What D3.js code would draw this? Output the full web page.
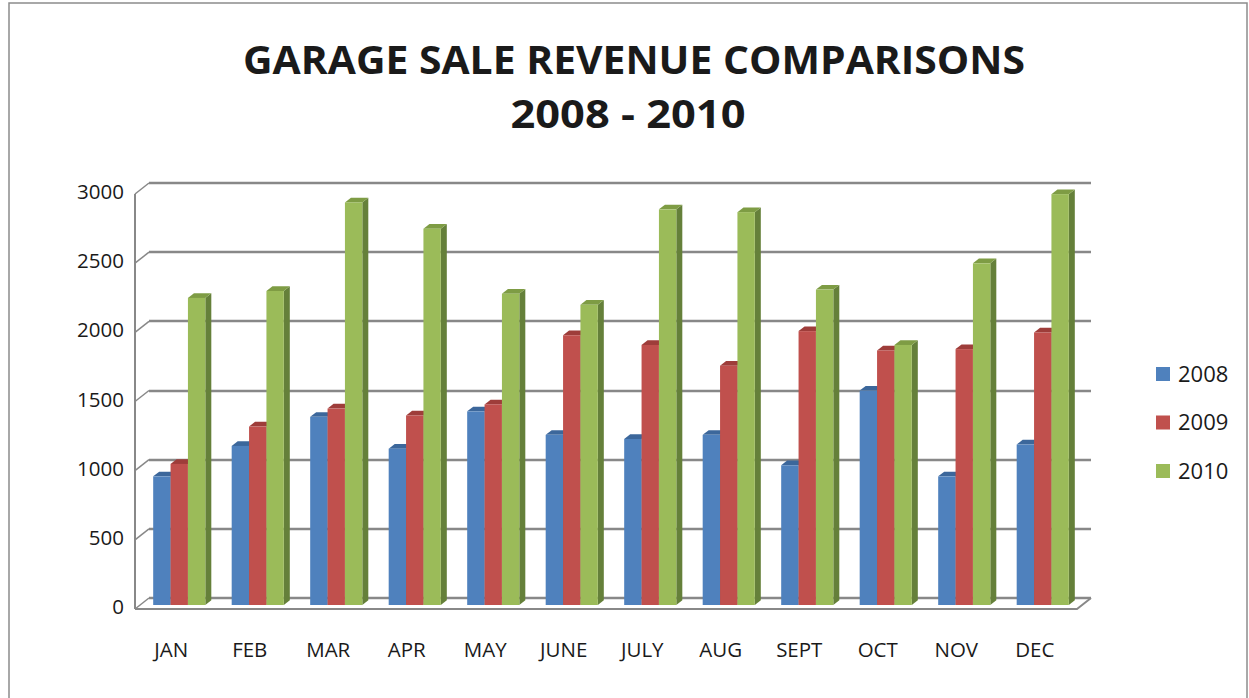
<!DOCTYPE html>
<html>
<head>
<meta charset="utf-8">
<script src="https://cdn.jsdelivr.net/npm/d3@7"></script>
<style>
  body { margin: 0; background: #fff; }
  text { font-family: "Open Sans", "Liberation Sans", sans-serif; fill: #1a1a1a; }
</style>
</head>
<body>
<script>
// data
const months = ['JAN', 'FEB', 'MAR', 'APR', 'MAY', 'JUNE', 'JULY', 'AUG', 'SEPT', 'OCT', 'NOV', 'DEC'];
const years = ['2008', '2009', '2010'];
const rev2008 = [930, 1150, 1360, 1130, 1400, 1230, 1200, 1230, 1010, 1550, 930, 1160];
const rev2009 = [1020, 1290, 1420, 1370, 1450, 1950, 1880, 1730, 1980, 1840, 1850, 1970];
const rev2010 = [2220, 2270, 2910, 2720, 2250, 2170, 2860, 2840, 2280, 1880, 2470, 2970];
const yTicks = [0, 500, 1000, 1500, 2000, 2500, 3000];

const front = ['#4F81BD', '#C0504D', '#9BBB59'];
const tops  = ['#3C679B', '#9E3D3A', '#7E9C44'];
const sides = ['#2F5482', '#853432', '#65803A'];

const width = 1249, height = 698;

const svg = d3.select('body').append('svg')
    .attr('width', width)
    .attr('height', height);

// outer chart border
svg.append('rect')
    .attr('x', 9).attr('y', 3)
    .attr('width', 1238).attr('height', 710)
    .attr('fill', 'none')
    .attr('stroke', '#8c8c8c')
    .attr('stroke-width', 1.5);

// title
svg.append('text')
    .attr('x', 634).attr('y', 74)
    .attr('text-anchor', 'middle')
    .attr('font-size', 40).attr('font-weight', 700)
    .attr('textLength', 782).attr('lengthAdjust', 'spacingAndGlyphs')
    .text('GARAGE SALE REVENUE COMPARISONS');
svg.append('text')
    .attr('x', 628).attr('y', 128)
    .attr('text-anchor', 'middle')
    .attr('font-size', 40).attr('font-weight', 700)
    .attr('textLength', 235).attr('lengthAdjust', 'spacingAndGlyphs')
    .text('2008 - 2010');

// 3d geometry
const depth = {dx: 14, dy: -11};
const barDepth = {dx: 6, dy: -4.7};
const left = 135, right = 1077;

const yFront = d3.scaleLinear().domain([0, 3000]).range([609, 194]);
const yBar = d3.scaleLinear().domain([0, 3000]).range([605, 190]);

const x = d3.scaleBand()
    .domain(months)
    .range([140, 1082])
    .paddingInner(0.336)
    .paddingOuter(0.168);

const xSub = d3.scaleBand()
    .domain(years)
    .range([0, x.bandwidth()]);

const grid = '#888';
const wall = svg.append('g');

// back wall gridlines
wall.selectAll('line.grid')
  .data(yTicks)
  .enter().append('line')
    .attr('class', 'grid')
    .attr('x1', left + depth.dx)
    .attr('x2', right + depth.dx)
    .attr('y1', d => Math.round(yFront(d) + depth.dy))
    .attr('y2', d => Math.round(yFront(d) + depth.dy))
    .attr('stroke', grid).attr('stroke-width', 2.5);

// side wall diagonals
wall.selectAll('line.diag')
  .data(yTicks)
  .enter().append('line')
    .attr('class', 'diag')
    .attr('x1', left)
    .attr('x2', left + depth.dx)
    .attr('y1', d => yFront(d))
    .attr('y2', d => yFront(d) + depth.dy)
    .attr('stroke', grid).attr('stroke-width', 1.5);

// vertical axis line
wall.append('line')
    .attr('x1', left).attr('x2', left)
    .attr('y1', yFront(0)).attr('y2', yFront(3000))
    .attr('stroke', grid).attr('stroke-width', 2);

// floor front edge + right edge
wall.append('path')
    .attr('d', `M ${left} ${yFront(0)} L ${right} ${yFront(0)} L ${right + depth.dx} ${yFront(0) + depth.dy}`)
    .attr('fill', 'none')
    .attr('stroke', grid).attr('stroke-width', 2);

// bars
const series = [rev2008, rev2009, rev2010];
const bars = [];
months.forEach(function(m, i) {
  years.forEach(function(y, j) {
    bars.push({month: m, year: y, s: j, value: series[j][i]});
  });
});

const barW = xSub.bandwidth();
const groups = svg.append('g').selectAll('g')
  .data(bars)
  .enter().append('g');

groups.append('path')
    .attr('fill', d => sides[d.s])
    .attr('d', function(d) {
      const x1 = x(d.month) + xSub(d.year) + barW;
      const y0 = yBar(0), y1 = yBar(d.value);
      return `M ${x1} ${y0} L ${x1 + barDepth.dx} ${y0 + barDepth.dy} L ${x1 + barDepth.dx} ${y1 + barDepth.dy} L ${x1} ${y1} Z`;
    });

groups.append('path')
    .attr('fill', d => tops[d.s])
    .attr('d', function(d) {
      const x0 = x(d.month) + xSub(d.year);
      const y1 = yBar(d.value);
      return `M ${x0} ${y1} L ${x0 + barDepth.dx} ${y1 + barDepth.dy} L ${x0 + barW + barDepth.dx} ${y1 + barDepth.dy} L ${x0 + barW} ${y1} Z`;
    });

groups.append('rect')
    .attr('x', d => x(d.month) + xSub(d.year))
    .attr('y', d => yBar(d.value))
    .attr('width', barW)
    .attr('height', d => yBar(0) - yBar(d.value))
    .attr('fill', d => front[d.s]);

// y axis labels
const yAxis = svg.append('g')
    .attr('transform', `translate(${left},-2)`)
    .call(d3.axisLeft(yFront).tickValues(yTicks).tickSize(0).tickPadding(11).tickFormat(d3.format('d')));
yAxis.select('.domain').remove();
yAxis.selectAll('text')
    .attr('font-size', 20.5)
    .style('font-family', '"Open Sans", sans-serif')
    .attr('fill', '#1a1a1a');

// month labels
const xAxis = svg.append('g')
    .attr('transform', `translate(-8,${yFront(0)})`)
    .call(d3.axisBottom(x).tickSize(0).tickPadding(33));
xAxis.select('.domain').remove();
xAxis.selectAll('text')
    .attr('font-size', 20.5)
    .style('font-family', '"Open Sans", sans-serif')
    .attr('fill', '#1a1a1a');

// legend
const legend = svg.append('g')
    .attr('transform', 'translate(1156,374)')
  .selectAll('g')
  .data(years)
  .enter().append('g')
    .attr('transform', (d, i) => `translate(0,${i * 48.5})`);

legend.append('rect')
    .attr('x', 0).attr('y', -7)
    .attr('width', 14).attr('height', 14)
    .attr('fill', (d, i) => front[i]);

legend.append('text')
    .attr('x', 22).attr('y', 0)
    .attr('dy', '0.35em')
    .attr('font-size', 22)
    .text(d => d);
</script>
</body>
</html>
